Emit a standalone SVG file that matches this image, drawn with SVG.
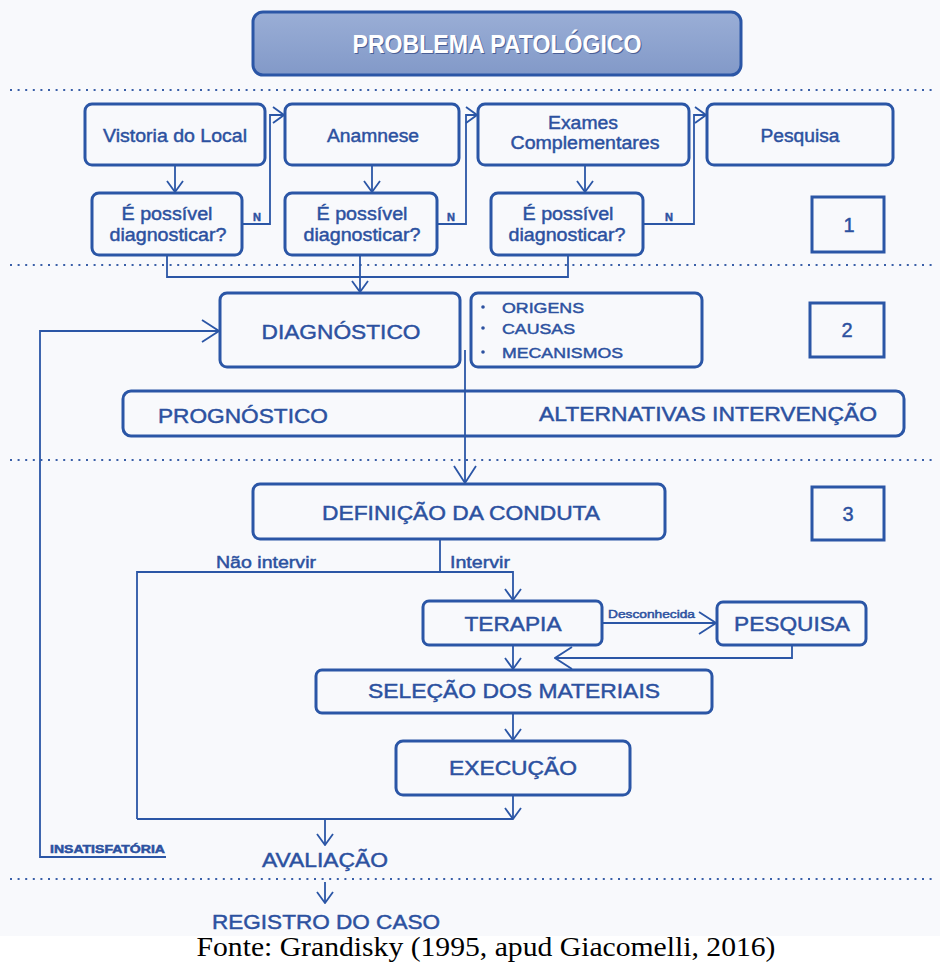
<svg xmlns="http://www.w3.org/2000/svg" width="940" height="962" viewBox="0 0 940 962">
<defs>
<style>
.box{fill:none;stroke:#2b56a6;stroke-width:3}
.sq{fill:none;stroke:#2b56a6;stroke-width:3}
.t{font-family:"Liberation Sans",Arial,sans-serif;fill:#2c51a0;stroke:#2c51a0;stroke-width:0.45;text-anchor:middle}
.tl{font-family:"Liberation Sans",Arial,sans-serif;fill:#2c51a0;stroke:#2c51a0;stroke-width:0.45}
.c{fill:none;stroke:#2b56a6;stroke-width:1.8}
.dot{fill:none;stroke:#3a5fa8;stroke-width:2;stroke-dasharray:2 5.6}
</style>
<marker id="a" viewBox="0 0 13 18" refX="12" refY="9" markerWidth="13" markerHeight="18" markerUnits="userSpaceOnUse" orient="auto">
<path d="M1,1 L12,9 L1,17" fill="none" stroke="#2b56a6" stroke-width="1.8"/>
</marker>
<marker id="b" viewBox="0 0 19 24" refX="18" refY="12" markerWidth="19" markerHeight="24" markerUnits="userSpaceOnUse" orient="auto">
<path d="M1,1 L18,12 L1,23" fill="none" stroke="#2b56a6" stroke-width="1.8"/>
</marker>
<linearGradient id="g" x1="0" y1="0" x2="0" y2="1">
<stop offset="0" stop-color="#9aaed6"/>
<stop offset="1" stop-color="#8299c8"/>
</linearGradient>
</defs>
<rect x="0" y="0" width="940" height="936" fill="#f8f9fc"/>
<rect x="0" y="936" width="940" height="26" fill="#ffffff"/>

<g id="separators">
<line class="dot" x1="10" y1="90" x2="932" y2="90"/>
<line class="dot" x1="10" y1="265" x2="932" y2="265"/>
<line class="dot" x1="10" y1="460" x2="932" y2="460"/>
<line class="dot" x1="10" y1="879" x2="932" y2="879"/>
</g>

<g id="title">
<rect x="253" y="12" width="488" height="63" rx="10" fill="url(#g)" stroke="#2b56a6" stroke-width="3"/>
<text x="498" y="54" font-family="'Liberation Sans',Arial,sans-serif" font-weight="bold" font-size="25" fill="#4a5f96" text-anchor="middle" textLength="289" lengthAdjust="spacingAndGlyphs">PROBLEMA PATOLÓGICO</text>
<text x="497" y="53" font-family="'Liberation Sans',Arial,sans-serif" font-weight="bold" font-size="25" fill="#ffffff" text-anchor="middle" textLength="289" lengthAdjust="spacingAndGlyphs">PROBLEMA PATOLÓGICO</text>
</g>

<g id="connectors">
<path class="c" d="M175,165 V192" marker-end="url(#a)"/>
<path class="c" d="M372,165 V192" marker-end="url(#a)"/>
<path class="c" d="M585,165 V192" marker-end="url(#a)"/>
<path class="c" d="M242,224 H270 V115 H284" marker-end="url(#a)"/>
<path class="c" d="M437,224 H466 V115 H477" marker-end="url(#a)"/>
<path class="c" d="M643,224 H694 V115 H706" marker-end="url(#a)"/>
<path class="c" d="M167,255 V277 H568 V255"/>
<path class="c" d="M360,255 V292" marker-end="url(#a)"/>
<path class="c" d="M465,350 V483" marker-end="url(#b)"/>
<path class="c" d="M166,857 H40 V331 H219" marker-end="url(#b)"/>
<path class="c" d="M440,539 V572"/>
<path class="c" d="M137,819 V572 H513 V600" marker-end="url(#a)"/>
<path class="c" d="M602,623 H716" marker-end="url(#b)"/>
<path class="c" d="M792,645 V658 H555" marker-end="url(#b)"/>
<path class="c" d="M513,645 V669" marker-end="url(#a)"/>
<path class="c" d="M513,713 V740" marker-end="url(#a)"/>
<path class="c" d="M513,795 V819" marker-end="url(#a)"/>
<path class="c" d="M137,819 H513"/>
<path class="c" d="M325,819 V845" marker-end="url(#a)"/>
<path class="c" d="M325,882 V903" marker-end="url(#a)"/>
<text class="tl" x="253" y="221" font-size="11" font-weight="bold">N</text>
<text class="tl" x="447" y="221" font-size="11" font-weight="bold">N</text>
<text class="tl" x="665" y="221" font-size="11" font-weight="bold">N</text>
<text class="tl" x="216" y="568" font-size="16" textLength="100" lengthAdjust="spacingAndGlyphs">Não intervir</text>
<text class="tl" x="450" y="568" font-size="16" textLength="60" lengthAdjust="spacingAndGlyphs">Intervir</text>
<text class="tl" x="608" y="618" font-size="10.5" stroke-width="0.3" textLength="87" lengthAdjust="spacingAndGlyphs">Desconhecida</text>
<text class="tl" x="50" y="853" font-size="10" font-weight="bold" stroke-width="0" textLength="115" lengthAdjust="spacingAndGlyphs">INSATISFATÓRIA</text>
</g>

<g id="vistoria">
<rect class="box" x="85" y="104" width="180" height="61" rx="7"/>
<text class="t" x="175" y="142" font-size="18" textLength="144" lengthAdjust="spacingAndGlyphs">Vistoria do Local</text>
</g>
<g id="anamnese">
<rect class="box" x="285" y="104" width="174" height="61" rx="7"/>
<text class="t" x="373" y="142" font-size="18" textLength="92" lengthAdjust="spacingAndGlyphs">Anamnese</text>
</g>
<g id="exames">
<rect class="box" x="478" y="104" width="211" height="61" rx="7"/>
<text class="t" x="583" y="129" font-size="18" textLength="70" lengthAdjust="spacingAndGlyphs">Exames</text>
<text class="t" x="585" y="149" font-size="18" textLength="149" lengthAdjust="spacingAndGlyphs">Complementares</text>
</g>
<g id="pesquisa1">
<rect class="box" x="707" y="104" width="186" height="61" rx="7"/>
<text class="t" x="800" y="142" font-size="18" textLength="79" lengthAdjust="spacingAndGlyphs">Pesquisa</text>
</g>
<g id="decisao1">
<rect class="box" x="92" y="193" width="150" height="62" rx="7"/>
<text class="t" x="167" y="220" font-size="18" textLength="91" lengthAdjust="spacingAndGlyphs">É possível</text>
<text class="t" x="168" y="241" font-size="18" textLength="117" lengthAdjust="spacingAndGlyphs">diagnosticar?</text>
</g>
<g id="decisao2">
<rect class="box" x="285" y="193" width="152" height="62" rx="7"/>
<text class="t" x="362" y="220" font-size="18" textLength="91" lengthAdjust="spacingAndGlyphs">É possível</text>
<text class="t" x="362" y="241" font-size="18" textLength="117" lengthAdjust="spacingAndGlyphs">diagnosticar?</text>
</g>
<g id="decisao3">
<rect class="box" x="491" y="193" width="152" height="62" rx="7"/>
<text class="t" x="568" y="220" font-size="18" textLength="91" lengthAdjust="spacingAndGlyphs">É possível</text>
<text class="t" x="567" y="241" font-size="18" textLength="117" lengthAdjust="spacingAndGlyphs">diagnosticar?</text>
</g>
<g id="etapa1">
<rect class="sq" x="812" y="197" width="72" height="55"/>
<text class="t" x="849" y="232" font-size="20">1</text>
</g>

<g id="diagnostico">
<rect class="box" x="220" y="293" width="240" height="74" rx="7"/>
<text class="t" x="341" y="339" font-size="21" textLength="159" lengthAdjust="spacingAndGlyphs">DIAGNÓSTICO</text>
</g>
<g id="origens">
<rect class="box" x="471" y="293" width="231" height="74" rx="7"/>
<circle cx="483" cy="307" r="1.8" fill="#2c51a0"/>
<circle cx="483" cy="328" r="1.8" fill="#2c51a0"/>
<circle cx="483" cy="352" r="1.8" fill="#2c51a0"/>
<text class="tl" x="502" y="313" font-size="15" textLength="82" lengthAdjust="spacingAndGlyphs">ORIGENS</text>
<text class="tl" x="502" y="334" font-size="15" textLength="73" lengthAdjust="spacingAndGlyphs">CAUSAS</text>
<text class="tl" x="502" y="358" font-size="15" textLength="121" lengthAdjust="spacingAndGlyphs">MECANISMOS</text>
</g>
<g id="etapa2">
<rect class="sq" x="810" y="303" width="74" height="54"/>
<text class="t" x="847" y="337" font-size="20">2</text>
</g>
<g id="prognostico">
<rect class="box" x="123" y="391" width="781" height="45" rx="8"/>
<text class="t" x="243" y="423" font-size="20" textLength="170" lengthAdjust="spacingAndGlyphs">PROGNÓSTICO</text>
<text class="t" x="708" y="421" font-size="20" textLength="338" lengthAdjust="spacingAndGlyphs">ALTERNATIVAS INTERVENÇÃO</text>
</g>

<g id="definicao">
<rect class="box" x="253" y="484" width="412" height="55" rx="7"/>
<text class="t" x="461" y="520" font-size="20" textLength="278" lengthAdjust="spacingAndGlyphs">DEFINIÇÃO DA CONDUTA</text>
</g>
<g id="etapa3">
<rect class="sq" x="812" y="487" width="72" height="53"/>
<text class="t" x="848" y="521" font-size="20">3</text>
</g>
<g id="terapia">
<rect class="box" x="423" y="601" width="179" height="44" rx="6"/>
<text class="t" x="513" y="631" font-size="20" textLength="97" lengthAdjust="spacingAndGlyphs">TERAPIA</text>
</g>
<g id="pesquisa2">
<rect class="box" x="717" y="602" width="149" height="43" rx="6"/>
<text class="t" x="792" y="631" font-size="20" textLength="116" lengthAdjust="spacingAndGlyphs">PESQUISA</text>
</g>
<g id="selecao">
<rect class="box" x="316" y="670" width="396" height="43" rx="6"/>
<text class="t" x="514" y="698" font-size="20" textLength="292" lengthAdjust="spacingAndGlyphs">SELEÇÃO DOS MATERIAIS</text>
</g>
<g id="execucao">
<rect class="box" x="396" y="741" width="234" height="54" rx="7"/>
<text class="t" x="513" y="775" font-size="20" textLength="128" lengthAdjust="spacingAndGlyphs">EXECUÇÃO</text>
</g>
<g id="avaliacao">
<text class="t" x="325" y="867" font-size="20" textLength="126" lengthAdjust="spacingAndGlyphs">AVALIAÇÃO</text>
</g>
<g id="registro">
<text class="t" x="326" y="929" font-size="20" textLength="228" lengthAdjust="spacingAndGlyphs">REGISTRO DO CASO</text>
</g>
<g id="fonte">
<text x="486" y="956" font-family="'Liberation Serif','Times New Roman',serif" font-size="28" fill="#000000" text-anchor="middle" textLength="579" lengthAdjust="spacingAndGlyphs">Fonte: Grandisky (1995, apud Giacomelli, 2016)</text>
</g>
</svg>
